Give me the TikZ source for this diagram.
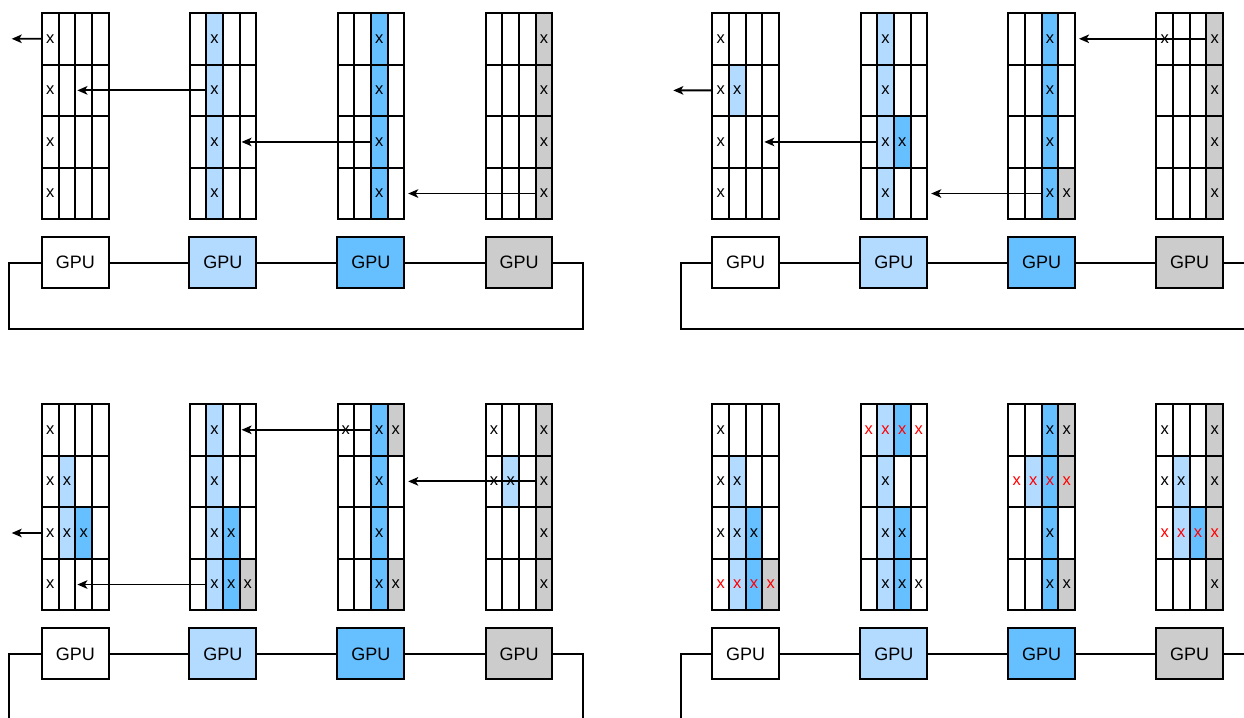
\documentclass[tikz,border=0pt]{standalone}
\usepackage{fontspec}
\setmainfont{Liberation Sans}
\usetikzlibrary{arrows.meta}
\definecolor{cw}{HTML}{FFFFFF}
\definecolor{cl}{HTML}{B3DAFF}
\definecolor{cm}{HTML}{66BFFF}
\definecolor{cg}{HTML}{CCCCCC}
\newcommand{\gmkn}{}
\newcommand{\gmkx}{x}
\newcommand{\gmkr}{\textcolor{red}{x}}
\def\cellw{16.67}
\def\cellh{51.58}
\tikzset{
  cell/.style={draw=black, line width=2pt, rectangle, inner sep=0pt,
    minimum width=16.67pt, minimum height=51.58pt,
    font=\fontsize{16.5}{19}\selectfont},
  gpu/.style={draw=black, line width=2pt, rectangle, inner sep=0pt,
    minimum width=66.67pt, minimum height=51.3pt,
    font=\fontsize{18}{21}\selectfont},
  ring/.style={draw=black, line width=2pt},
  arr/.style={draw=black, line width=1.8pt, -{Stealth[length=10pt,width=8.5pt,inset=2.5pt]}}
}
\newcommand{\gridblk}[8]{%
  \foreach \rs [count=\ri] in {{#5},{#6},{#7},{#8}}{%
    \foreach \f/\m [count=\ci] in \rs {%
      \node[cell, fill=c\f] (#1-#2-\ri-\ci) at ({#3+(\ci-0.5)*\cellw},{#4+(\ri-0.5)*\cellh}) {\csname gmk\m\endcsname};
    }%
  }%
}
\begin{document}
\begin{tikzpicture}[x=1pt,y=-1pt]
\useasboundingbox (0,0) rectangle (1244,717);
\clip (0,0) rectangle (1244,717);

% ---------------- Panel A (top left)
\gridblk{A}{1}{42}{13}{w/x,w/n,w/n,w/n}{w/x,w/n,w/n,w/n}{w/x,w/n,w/n,w/n}{w/x,w/n,w/n,w/n}
\gridblk{A}{2}{189.5}{13}{w/n,l/x,w/n,w/n}{w/n,l/x,w/n,w/n}{w/n,l/x,w/n,w/n}{w/n,l/x,w/n,w/n}
\gridblk{A}{3}{337.5}{13}{w/n,w/n,m/x,w/n}{w/n,w/n,m/x,w/n}{w/n,w/n,m/x,w/n}{w/n,w/n,m/x,w/n}
\gridblk{A}{4}{485.7}{13}{w/n,w/n,w/n,g/x}{w/n,w/n,w/n,g/x}{w/n,w/n,w/n,g/x}{w/n,w/n,w/n,g/x}
\node[gpu, fill=cw] (A-G1) at (75.3,262.7) {GPU};
\node[gpu, fill=cl] (A-G2) at (222.8,262.7) {GPU};
\node[gpu, fill=cm] (A-G3) at (370.8,262.7) {GPU};
\node[gpu, fill=cg] (A-G4) at (519.0,262.7) {GPU};
\coordinate (A-br) at (583,328.7);
\coordinate (A-bl) at (9,328.7);
\draw[ring] (A-G1) -- (A-G2);
\draw[ring] (A-G2) -- (A-G3);
\draw[ring] (A-G3) -- (A-G4);
\draw[ring] (A-G4.east) -| (A-br) -- (A-bl) |- (A-G1.west);
\coordinate (A-out) at (11.7,38.8);
\draw[arr] (A-1-1-1.west) -- (A-out);
\draw[arr] (A-2-2-2.west) -- ([xshift=3pt]A-1-2-3.west);
\draw[arr] (A-3-3-3.west) -- ([xshift=3pt]A-2-3-4.west);
\draw[arr] (A-4-4-4.west) -- ([xshift=3pt]A-3-4-4.east);

% ---------------- Panel B (top right)
\gridblk{B}{1}{712.3}{13}{w/x,w/n,w/n,w/n}{w/x,l/x,w/n,w/n}{w/x,w/n,w/n,w/n}{w/x,w/n,w/n,w/n}
\gridblk{B}{2}{860.5}{13}{w/n,l/x,w/n,w/n}{w/n,l/x,w/n,w/n}{w/n,l/x,m/x,w/n}{w/n,l/x,w/n,w/n}
\gridblk{B}{3}{1008.3}{13}{w/n,w/n,m/x,w/n}{w/n,w/n,m/x,w/n}{w/n,w/n,m/x,w/n}{w/n,w/n,m/x,g/x}
\gridblk{B}{4}{1156.3}{13}{w/x,w/n,w/n,g/x}{w/n,w/n,w/n,g/x}{w/n,w/n,w/n,g/x}{w/n,w/n,w/n,g/x}
\node[gpu, fill=cw] (B-G1) at (745.6,262.7) {GPU};
\node[gpu, fill=cl] (B-G2) at (893.8,262.7) {GPU};
\node[gpu, fill=cm] (B-G3) at (1041.6,262.7) {GPU};
\node[gpu, fill=cg] (B-G4) at (1189.6,262.7) {GPU};
\coordinate (B-br) at (1253.5,328.7);
\coordinate (B-bl) at (680.5,328.7);
\draw[ring] (B-G1) -- (B-G2);
\draw[ring] (B-G2) -- (B-G3);
\draw[ring] (B-G3) -- (B-G4);
\draw[ring] (B-G4.east) -| (B-br) -- (B-bl) |- (B-G1.west);
\coordinate (B-out) at (673.3,90.4);
\draw[arr] (B-1-2-1.west) -- (B-out);
\draw[arr] (B-2-3-2.west) -- ([xshift=3pt]B-1-3-4.west);
\draw[arr] (B-3-4-3.west) -- ([xshift=3pt]B-2-4-4.east);
\draw[arr] (B-4-1-4.west) -- ([xshift=3pt]B-3-1-4.east);

% ---------------- Panel C (bottom left)
\gridblk{C}{1}{42}{404}{w/x,w/n,w/n,w/n}{w/x,l/x,w/n,w/n}{w/x,l/x,m/x,w/n}{w/x,w/n,w/n,w/n}
\gridblk{C}{2}{189.5}{404}{w/n,l/x,w/n,w/n}{w/n,l/x,w/n,w/n}{w/n,l/x,m/x,w/n}{w/n,l/x,m/x,g/x}
\gridblk{C}{3}{337.5}{404}{w/x,w/n,m/x,g/x}{w/n,w/n,m/x,w/n}{w/n,w/n,m/x,w/n}{w/n,w/n,m/x,g/x}
\gridblk{C}{4}{485.7}{404}{w/x,w/n,w/n,g/x}{w/x,l/x,w/n,g/x}{w/n,w/n,w/n,g/x}{w/n,w/n,w/n,g/x}
\node[gpu, fill=cw] (C-G1) at (75.3,653.8) {GPU};
\node[gpu, fill=cl] (C-G2) at (222.8,653.8) {GPU};
\node[gpu, fill=cm] (C-G3) at (370.8,653.8) {GPU};
\node[gpu, fill=cg] (C-G4) at (519.0,653.8) {GPU};
\coordinate (C-br) at (583,719.7);
\coordinate (C-bl) at (9,719.7);
\draw[ring] (C-G1) -- (C-G2);
\draw[ring] (C-G2) -- (C-G3);
\draw[ring] (C-G3) -- (C-G4);
\draw[ring] (C-G4.east) -| (C-br) -- (C-bl) |- (C-G1.west);
\coordinate (C-out) at (11.7,533.0);
\draw[arr] (C-1-3-1.west) -- (C-out);
\draw[arr] (C-2-4-2.west) -- ([xshift=3pt]C-1-4-3.west);
\draw[arr] (C-3-1-3.west) -- ([xshift=3pt]C-2-1-4.west);
\draw[arr] (C-4-2-4.west) -- ([xshift=3pt]C-3-2-4.east);

% ---------------- Panel D (bottom right)
\gridblk{D}{1}{712.3}{404}{w/x,w/n,w/n,w/n}{w/x,l/x,w/n,w/n}{w/x,l/x,m/x,w/n}{w/r,l/r,m/r,g/r}
\gridblk{D}{2}{860.5}{404}{w/r,l/r,m/r,w/r}{w/n,l/x,w/n,w/n}{w/n,l/x,m/x,w/n}{w/n,l/x,m/x,w/x}
\gridblk{D}{3}{1008.3}{404}{w/n,w/n,m/x,g/x}{w/r,l/r,m/r,g/r}{w/n,w/n,m/x,w/n}{w/n,w/n,m/x,g/x}
\gridblk{D}{4}{1156.3}{404}{w/x,w/n,w/n,g/x}{w/x,l/x,w/n,g/x}{w/r,l/r,m/r,g/r}{w/n,w/n,w/n,g/x}
\node[gpu, fill=cw] (D-G1) at (745.6,653.8) {GPU};
\node[gpu, fill=cl] (D-G2) at (893.8,653.8) {GPU};
\node[gpu, fill=cm] (D-G3) at (1041.6,653.8) {GPU};
\node[gpu, fill=cg] (D-G4) at (1189.6,653.8) {GPU};
\coordinate (D-br) at (1253.5,719.7);
\coordinate (D-bl) at (680.5,719.7);
\draw[ring] (D-G1) -- (D-G2);
\draw[ring] (D-G2) -- (D-G3);
\draw[ring] (D-G3) -- (D-G4);
\draw[ring] (D-G4.east) -| (D-br) -- (D-bl) |- (D-G1.west);
\end{tikzpicture}
\end{document}
